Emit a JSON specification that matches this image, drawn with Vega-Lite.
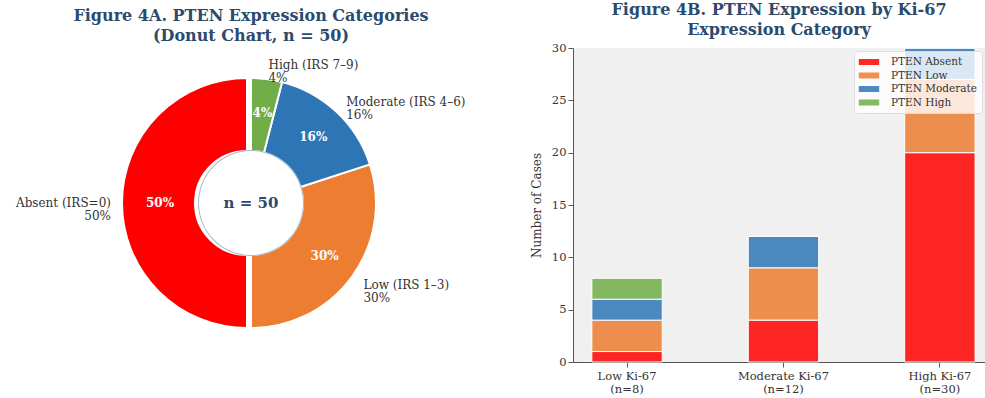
{
  "$schema": "https://vega.github.io/schema/vega-lite/v6.json",
  "padding": {"left": 5, "top": 2, "right": 0, "bottom": 2},
  "spacing": 33,
  "background": "white",
  "resolve": {"scale": {"color": "independent"}, "legend": {"color": "independent"}},
  "config": {
    "font": "DejaVu Serif",
    "view": {"stroke": null},
    "title": {"font": "DejaVu Serif", "fontSize": 16, "fontWeight": "bold", "color": "#2c4a6b", "lineHeight": 20, "offset": 4, "frame": "group"},
    "axis": {"labelFont": "DejaVu Serif", "titleFont": "DejaVu Serif", "labelFontSize": 11.5, "titleFontSize": 12, "labelColor": "#333", "titleColor": "#333", "titleFontWeight": "normal", "domainColor": "#555", "tickColor": "#555", "grid": false}
  },
  "hconcat": [
    {
      "width": 492,
      "height": 310,
      "title": {"text": ["Figure 4A. PTEN Expression Categories", "(Donut Chart, n = 50)"]},
      "data": {"values": [
        {"cat": "Absent", "label": "Absent (IRS=0)\n50%", "share": 0.50, "k": 4},
        {"cat": "Low", "label": "Low (IRS 1–3)\n30%", "share": 0.30, "k": 3},
        {"cat": "Moderate", "label": "Moderate (IRS 4–6)\n16%", "share": 0.16, "k": 2},
        {"cat": "High", "label": "High (IRS 7–9)\n4%", "share": 0.04, "k": 1}
      ]},
      "layer": [
        {
          "mark": {"type": "arc", "outerRadius": 125, "innerRadius": 52, "stroke": "white", "strokeWidth": 2},
          "encoding": {
            "theta": {"field": "share", "type": "quantitative", "stack": true, "scale": {"domain": [0, 1]}},
            "order": {"field": "k", "type": "quantitative"},
            "color": {"field": "cat", "type": "nominal", "scale": {"domain": ["Absent", "Low", "Moderate", "High"], "range": ["#ff0000", "#ed7d31", "#2e75b6", "#70ad47"]}, "legend": null},
            "opacity": {"condition": {"test": "datum.cat === 'Absent'", "value": 0}, "value": 1}
          }
        },
        {
          "mark": {"type": "arc", "outerRadius": 125, "innerRadius": 52, "stroke": "white", "strokeWidth": 2, "xOffset": -4},
          "encoding": {
            "theta": {"field": "share", "type": "quantitative", "stack": true},
            "order": {"field": "k", "type": "quantitative"},
            "color": {"field": "cat", "type": "nominal", "legend": null},
            "opacity": {"condition": {"test": "datum.cat === 'Absent'", "value": 1}, "value": 0}
          }
        },
        {
          "mark": {"type": "arc", "outerRadius": 53, "innerRadius": 52},
          "encoding": {
            "theta": {"field": "share", "type": "quantitative", "stack": true},
            "order": {"field": "k", "type": "quantitative"},
            "color": {"value": "#a9b8c8"}
          }
        },
        {
          "mark": {"type": "text", "radius": 91, "fontWeight": "bold", "fontSize": 12, "baseline": "middle"},
          "encoding": {
            "theta": {"field": "share", "type": "quantitative", "stack": true},
            "order": {"field": "k", "type": "quantitative"},
            "text": {"field": "share", "type": "quantitative", "format": ".0%"},
            "color": {"value": "white"}
          }
        },
        {
          "mark": {"type": "text", "radius": 139, "align": "left", "baseline": "middle", "lineBreak": "\n", "fontSize": 12, "lineHeight": 13},
          "encoding": {
            "theta": {"field": "share", "type": "quantitative", "stack": true},
            "order": {"field": "k", "type": "quantitative"},
            "text": {"field": "label"},
            "color": {"value": "#333"},
            "opacity": {"condition": {"test": "datum.cat === 'Absent'", "value": 0}, "value": 1}
          }
        },
        {
          "mark": {"type": "text", "radius": 140, "align": "right", "baseline": "middle", "lineBreak": "\n", "fontSize": 12, "lineHeight": 13},
          "encoding": {
            "theta": {"field": "share", "type": "quantitative", "stack": true},
            "order": {"field": "k", "type": "quantitative"},
            "text": {"field": "label"},
            "color": {"value": "#333"},
            "opacity": {"condition": {"test": "datum.cat === 'Absent'", "value": 1}, "value": 0}
          }
        },
        {
          "mark": {"type": "text", "radius": 0, "fontWeight": "bold", "fontSize": 15, "baseline": "middle"},
          "encoding": {
            "theta": {"field": "share", "type": "quantitative", "stack": true},
            "order": {"field": "k", "type": "quantitative"},
            "text": {"value": "n = 50"},
            "color": {"value": "#2c4a6b"},
            "opacity": {"condition": {"test": "datum.cat === 'High'", "value": 1}, "value": 0}
          }
        }
      ]
    },
    {
      "width": 412,
      "height": 314,
      "title": {"text": ["Figure 4B. PTEN Expression by Ki-67", "Expression Category"]},
      "view": {"fill": "#f0f0f0"},
      "data": {"values": [
        {"ki": "Low Ki-67|(n=8)", "pten": "PTEN Absent", "n": 1, "k": 1},
        {"ki": "Low Ki-67|(n=8)", "pten": "PTEN Low", "n": 3, "k": 2},
        {"ki": "Low Ki-67|(n=8)", "pten": "PTEN Moderate", "n": 2, "k": 3},
        {"ki": "Low Ki-67|(n=8)", "pten": "PTEN High", "n": 2, "k": 4},
        {"ki": "Moderate Ki-67|(n=12)", "pten": "PTEN Absent", "n": 4, "k": 1},
        {"ki": "Moderate Ki-67|(n=12)", "pten": "PTEN Low", "n": 5, "k": 2},
        {"ki": "Moderate Ki-67|(n=12)", "pten": "PTEN Moderate", "n": 3, "k": 3},
        {"ki": "Moderate Ki-67|(n=12)", "pten": "PTEN High", "n": 0, "k": 4},
        {"ki": "High Ki-67|(n=30)", "pten": "PTEN Absent", "n": 20, "k": 1},
        {"ki": "High Ki-67|(n=30)", "pten": "PTEN Low", "n": 7, "k": 2},
        {"ki": "High Ki-67|(n=30)", "pten": "PTEN Moderate", "n": 3, "k": 3},
        {"ki": "High Ki-67|(n=30)", "pten": "PTEN High", "n": 0, "k": 4}
      ]},
      "mark": {"type": "bar", "stroke": "white", "strokeWidth": 1, "fillOpacity": 0.85},
      "encoding": {
        "x": {"field": "ki", "type": "nominal", "sort": null, "scale": {"paddingInner": 0.55, "paddingOuter": 0.092, "align": 0.655}, "axis": {"title": null, "labelAngle": 0, "labelExpr": "split(datum.label, '|')", "labelLineHeight": 13, "labelPadding": 3}},
        "y": {"field": "n", "type": "quantitative", "stack": "zero", "scale": {"domain": [0, 30], "nice": false}, "axis": {"title": "Number of Cases", "values": [0, 5, 10, 15, 20, 25, 30], "titlePadding": 8}},
        "color": {"field": "pten", "type": "nominal", "scale": {"domain": ["PTEN Absent", "PTEN Low", "PTEN Moderate", "PTEN High"], "range": ["#ff0000", "#ed7d31", "#2e75b6", "#70ad47"]},
          "legend": {"title": null, "orient": "top-right", "offset": 3, "fillColor": "rgba(255,255,255,0.8)", "strokeColor": "#ddd", "padding": 5, "labelFont": "DejaVu Serif", "labelFontSize": 10.5, "labelColor": "#333", "symbolType": "M-1.7,-0.5H1.7V0.5H-1.7Z", "symbolSize": 144, "symbolOffset": 4, "symbolOpacity": 0.85, "symbolStrokeWidth": 0, "rowPadding": 1.5, "cornerRadius": 3, "labelOffset": 16}},
        "order": {"field": "k", "type": "quantitative"}
      }
    }
  ]
}
